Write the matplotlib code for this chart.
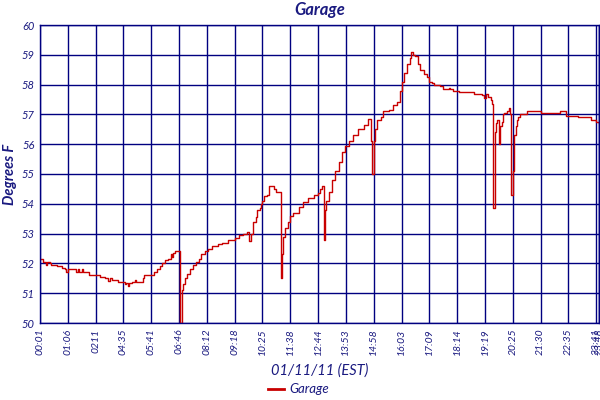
import matplotlib
matplotlib.use('Agg')
import matplotlib.pyplot as plt

# sample number (20 samples per grid column) and temperature
samples = [0, 2, 4, 5, 7, 8, 12, 16, 18, 19, 20, 26, 27, 28, 30, 31, 35, 42, 43, 47,
           49, 50, 52, 55, 56, 60, 61, 62, 63, 64, 66, 68, 69, 73, 74, 75, 81, 82, 84, 86,
           88, 90, 92, 94, 95, 96, 97, 100, 101, 102, 103, 104, 106, 108, 110, 112, 114, 116, 119, 121,
           124, 128, 131, 135, 140, 143, 146, 149, 150, 152, 153, 155, 156, 158, 159, 160, 161, 163, 165, 167,
           168, 170, 172, 173, 174, 175, 176, 178, 180, 182, 186, 189, 193, 197, 200, 201, 203, 204, 205, 206,
           208, 210, 212, 215, 217, 219, 222, 225, 229, 233, 236, 237, 238, 239, 240, 241, 242, 245, 247, 251,
           254, 257, 259, 260, 262, 264, 266, 267, 268, 270, 272, 273, 276, 278, 280, 282, 283, 288, 290, 294,
           295, 297, 301, 307, 312, 318, 319, 321, 322, 324, 325, 326, 327, 328, 329, 330, 331, 332, 333, 334,
           336, 337, 338, 339, 340, 341, 342, 343, 344, 345, 349, 350, 357, 360, 369, 374, 378, 386, 387, 395,
           396, 399, 400, 402]
temps = [52.15, 52.05, 51.95, 52.05, 52.0, 51.95, 51.92, 51.85, 51.8, 51.7, 51.82, 51.72, 51.8, 51.72, 51.8, 51.72, 51.62, 51.62, 51.55, 51.5,
         51.42, 51.5, 51.45, 51.45, 51.38, 51.38, 51.3, 51.35, 51.25, 51.35, 51.38, 51.45, 51.38, 51.38, 51.5, 51.6, 51.6, 51.7, 51.8, 51.9,
         52.0, 52.1, 52.15, 52.3, 52.2, 52.35, 52.4, 52.4, 50.0, 51.1, 51.3, 51.5, 51.65, 51.8, 51.95, 52.05, 52.15, 52.3, 52.4, 52.5,
         52.6, 52.65, 52.7, 52.8, 52.85, 52.95, 53.0, 53.05, 52.75, 53.0, 53.4, 53.55, 53.8, 53.85, 54.0, 54.1, 54.25, 54.3, 54.6, 54.6,
         54.5, 54.4, 54.4, 51.5, 52.3, 52.9, 53.2, 53.4, 53.6, 53.7, 53.9, 54.05, 54.2, 54.3, 54.35, 54.5, 54.6, 52.8, 53.8, 54.1,
         54.4, 54.8, 55.1, 55.4, 55.75, 55.95, 56.1, 56.3, 56.5, 56.65, 56.85, 56.85, 56.1, 55.0, 56.1, 56.5, 56.8, 56.9, 57.1, 57.15,
         57.3, 57.4, 57.8, 58.1, 58.4, 58.7, 58.9, 59.1, 59.0, 58.95, 58.7, 58.5, 58.35, 58.25, 58.1, 58.05, 58.0, 57.95, 57.85, 57.9,
         57.85, 57.8, 57.75, 57.75, 57.7, 57.65, 57.55, 57.7, 57.6, 57.5, 57.35, 53.85, 56.4, 56.7, 56.8, 56.0, 56.6, 56.75, 57.0, 57.05,
         57.1, 57.2, 57.0, 54.3, 55.1, 56.3, 56.6, 56.8, 56.9, 57.0, 57.0, 57.1, 57.1, 57.05, 57.05, 57.1, 56.95, 56.95, 56.9, 56.9,
         56.8, 56.8, 56.75, 56.7]

tick_labels = ["00:01", "01:06", "0211", "04:35", "05:41", "06:46", "08:12", "09:18", "10:25", "11:38",
               "12:44", "13:53", "14:58", "16:03", "17:09", "18:14", "19:19", "20:25", "21:30", "22:35",
               "23:41"]
end_label = "23:48"
y_ticks = [50, 51, 52, 53, 54, 55, 56, 57, 58, 59, 60]

navy = '#000080'
text_blue = '#1a1a80'
plt.rcParams['font.family'] = ['Lato', 'DejaVu Sans']

fig = plt.figure(figsize=(6, 4), dpi=100)
ax = fig.add_axes([40 / 600, 77 / 400, 559 / 600, 298 / 400])

line, = ax.plot(samples, temps, color='#c80000', lw=1.0, drawstyle='steps-post')

ax.set_xlim(0, samples[-1])
ax.set_ylim(50, 60)
x_ticks = list(range(0, 20 * len(tick_labels), 20))
ax.set_xticks(x_ticks + [samples[-1]])
ax.set_xticklabels(tick_labels + [end_label], rotation=90, fontsize=7.5,
                   style='italic', color=text_blue)
ax.set_yticks(y_ticks)
ax.set_yticklabels([str(v) for v in y_ticks], fontsize=8, style='italic', color=text_blue)
ax.tick_params(length=0, pad=4)

ax.grid(True, color=navy, lw=1.0)
ax.set_axisbelow(True)
for s in ax.spines.values():
    s.set_color(navy)
    s.set_linewidth(1.0)
# extra vertical line at the last sample
ax.axvline(samples[-1], color=navy, lw=1.0)

ax.set_title("Garage", fontsize=12, style='italic', fontweight='bold', color=text_blue, pad=7)
fig.text(10 / 600, 0.565, "Degrees F", rotation=90, ha='center', va='center',
         fontsize=10.5, style='italic', fontweight='bold', color=text_blue)
ax.set_xlabel("01/11/11 (EST)", fontsize=10.5, style='italic', color=text_blue, labelpad=6)

leg = fig.legend([line], ["Garage"], loc='center', bbox_to_anchor=(0.497, 0.027), frameon=False,
                 fontsize=9.5, handlelength=1.2, handletextpad=0.4, borderpad=0)
for h in leg.legend_handles:
    h.set_linewidth(2.0)
for t in leg.get_texts():
    t.set_color(text_blue)
    t.set_style('italic')

fig.savefig('out.png', dpi=100)
